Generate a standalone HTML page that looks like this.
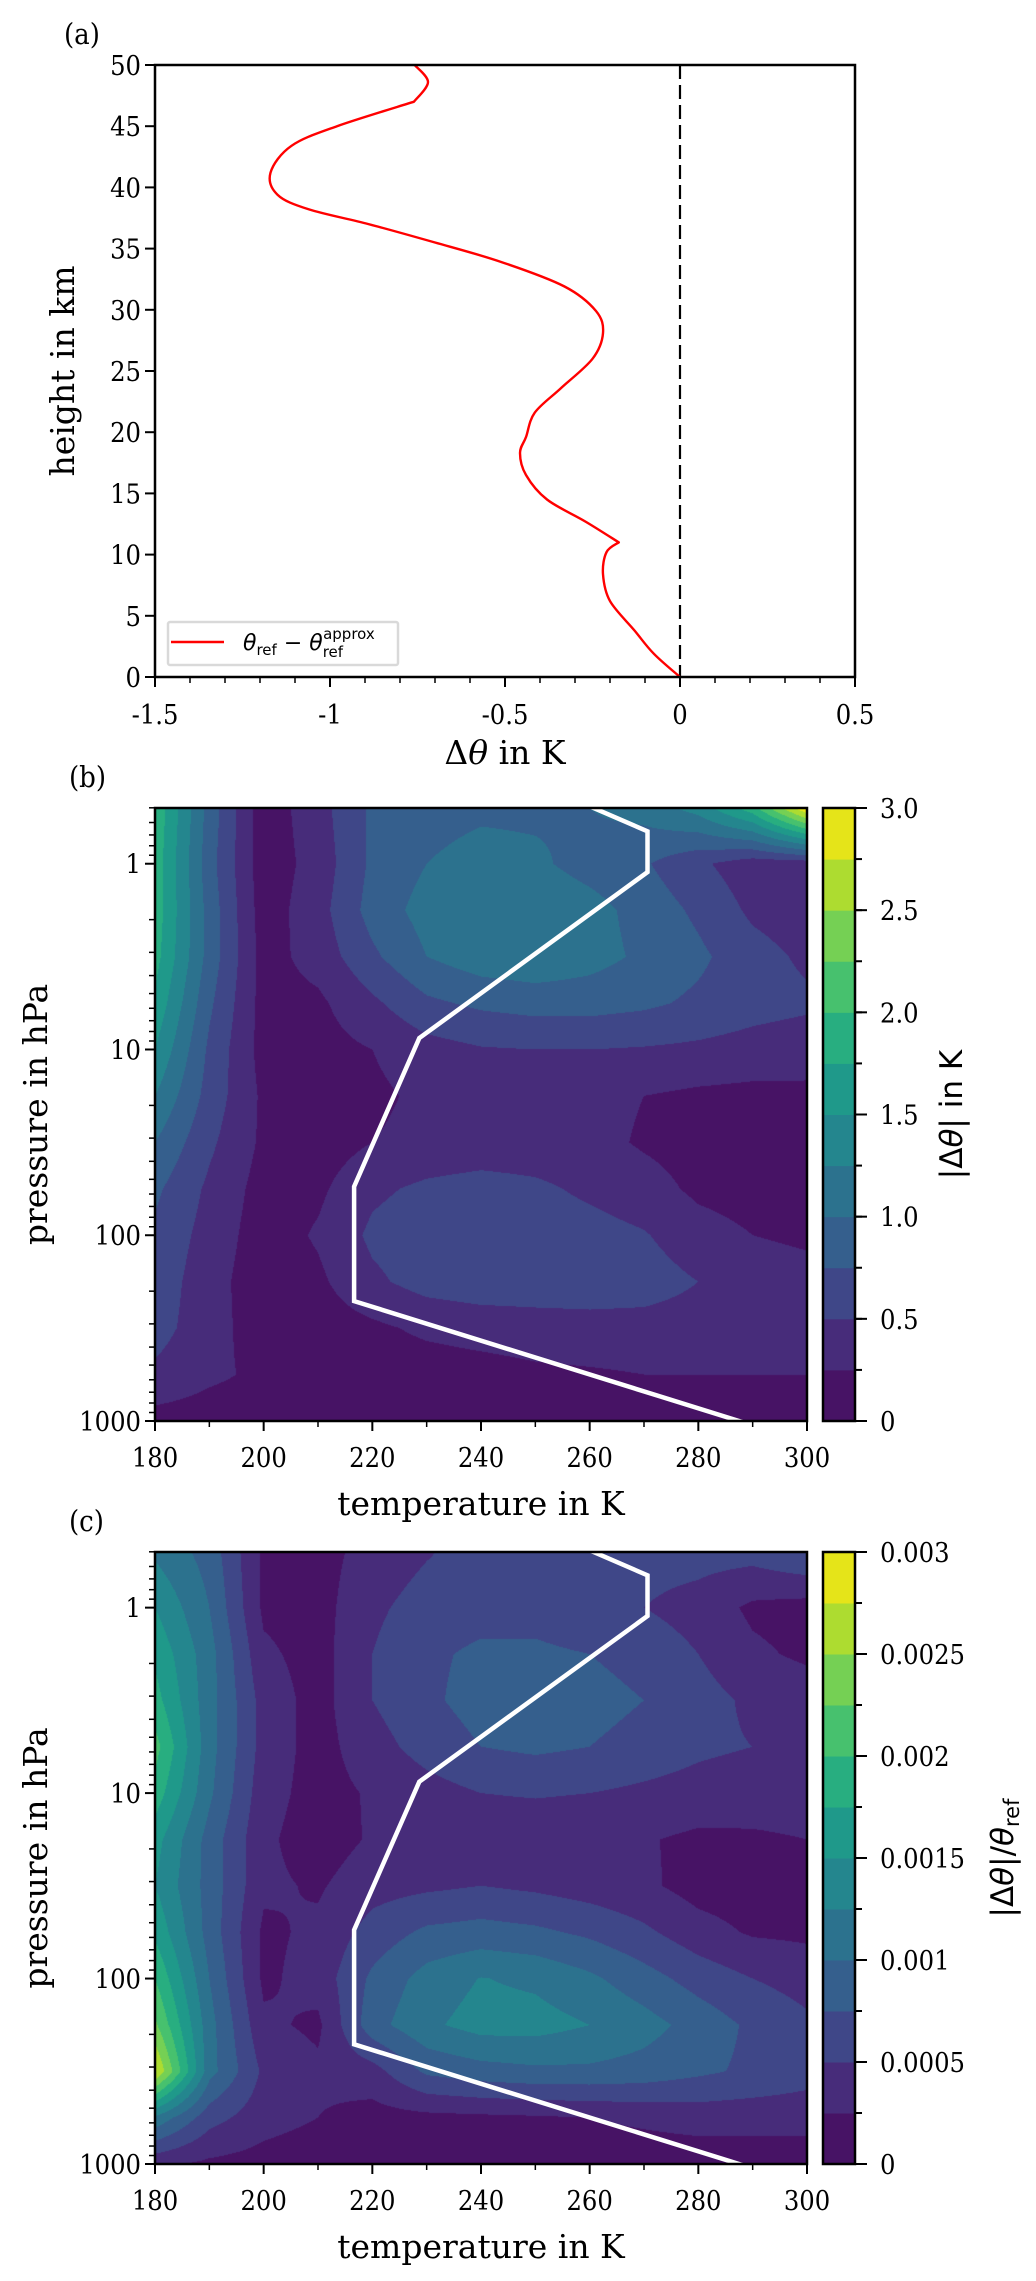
<!DOCTYPE html>
<html><head><meta charset="utf-8">
<style>
html,body{margin:0;padding:0;background:#fff;}
#wrap{position:relative;width:1036px;height:2281px;overflow:hidden;}
canvas{position:absolute;}
svg{position:absolute;left:0;top:0;}
text{font-family:"DejaVu Serif Condensed","DejaVu Serif","Liberation Serif",serif;fill:#000;}
.lab{font-family:"DejaVu Serif","Liberation Serif",serif;font-size:33px;}
.tk{font-size:27px;}
.mt{font-family:"DejaVu Sans","Liberation Sans",sans-serif;}
</style></head>
<body>
<div id="wrap">
<canvas id="cb" width="652" height="613" style="left:155px;top:808px"></canvas>
<canvas id="cc" width="652" height="613" style="left:155px;top:1552px"></canvas>
<svg id="svg" width="1036" height="2281" xmlns="http://www.w3.org/2000/svg"></svg>
</div>
<script>
// ---------- Panel (a) data ----------
const heightKm = [50,48.6,47,45,43.4,41.2,39.4,38.2,37,35.5,33.9,31.9,29.9,28.1,26,23.6,21.6,19.6,18.3,16.5,14.5,12.7,11,10.2,8.4,6.2,3.8,1.9,0];
const deltaTheta = [-0.758,-0.72,-0.76,-0.98,-1.11,-1.17,-1.15,-1.06,-0.89,-0.70,-0.51,-0.33,-0.24,-0.22,-0.25,-0.34,-0.415,-0.44,-0.457,-0.44,-0.38,-0.27,-0.175,-0.21,-0.22,-0.2,-0.13,-0.075,0];
const aXTicks = [-1.5,-1,-0.5,0,0.5];
const aXTickLabels = ["-1.5","-1","-0.5","0","0.5"];
const aYTicks = [0,5,10,15,20,25,30,35,40,45,50];

// ---------- Panels (b),(c) grid ----------
const tempGrid = [180,190,200,210,220,230,240,250,260,270,280,290,300];
const logPGrid = [-0.3,0,0.25,0.5,0.75,1,1.25,1.5,1.75,2,2.25,2.5,2.75,3];
// |dtheta| in K, rows = logPGrid, cols = tempGrid
const absErr = [
 [1.95,0.9,0.1,0.4,0.8,0.9,0.95,0.95,1.0,1.1,1.35,1.9,3.0],
 [1.9,0.85,0.1,0.35,0.8,1.0,1.1,1.05,0.9,0.78,0.55,0.35,0.35],
 [1.9,0.9,0.12,0.4,0.85,1.1,1.2,1.2,1.1,0.9,0.7,0.45,0.35],
 [1.85,0.9,0.15,0.35,0.7,1.0,1.15,1.2,1.1,0.95,0.8,0.6,0.45],
 [1.7,0.8,0.15,0.2,0.45,0.7,0.8,0.85,0.85,0.8,0.7,0.6,0.55],
 [1.5,0.7,0.15,0.15,0.25,0.4,0.48,0.5,0.5,0.48,0.45,0.4,0.35],
 [1.25,0.65,0.2,0.12,0.2,0.3,0.35,0.35,0.33,0.25,0.2,0.18,0.2],
 [1.0,0.55,0.2,0.12,0.25,0.32,0.35,0.35,0.33,0.22,0.15,0.12,0.12],
 [0.8,0.45,0.15,0.2,0.45,0.55,0.6,0.55,0.45,0.35,0.2,0.15,0.15],
 [0.7,0.4,0.12,0.28,0.55,0.65,0.68,0.65,0.6,0.52,0.35,0.25,0.2],
 [0.65,0.35,0.1,0.2,0.45,0.6,0.65,0.65,0.65,0.62,0.5,0.4,0.35],
 [0.6,0.35,0.12,0.12,0.2,0.3,0.35,0.38,0.4,0.4,0.38,0.35,0.32],
 [0.45,0.3,0.2,0.1,0.1,0.12,0.15,0.2,0.22,0.25,0.25,0.25,0.25],
 [0.15,0.12,0.1,0.1,0.1,0.1,0.1,0.1,0.1,0.1,0.1,0.1,0.1]
];
// |dtheta|/theta_ref in units of 1e-4
const relErrE4 = [
 [12,9,2,1.5,3.5,4.8,6,6.5,6,6,6,6,7.5],
 [15,10,2,1.5,4.5,6,6.5,6.5,5.5,5,4,2,1.5],
 [17,11,3,1.5,5,7,8,8,7.5,6.5,5,3,2],
 [18.5,11,4,1.5,5,7,8.5,9,8.5,7.5,6,4.5,4],
 [21,11,4,1.5,4,6,7.5,8,7.5,6.5,5.5,5,4.5],
 [19,10.5,3.5,1.5,2.8,4,5,5.2,5,4.5,4,3.5,3.5],
 [16,9,3,1.2,2.8,3.5,3.5,3.5,3.3,2.7,2,2.2,2.5],
 [15,9,3,2.2,4,4.5,5,4.5,3.8,3,1.5,1.2,1.5],
 [17,9,2,3,6,8,8.5,8,7,5.5,3.5,2.2,2],
 [20,10,2,3.5,8,11,12.6,12,10.5,8.5,6.5,5,4],
 [23,11,3,2,9,12,13.5,13.5,12.5,11,9,7,5.5],
 [28,11,4.5,3,4,8,9,9.5,9.5,9,8,7,6],
 [12,6,3.5,2.5,1.5,1.8,2,2.2,2.5,3,3.5,3.5,3.5],
 [3,2,1.5,1,1,1,1,1,1,1,1,1,1]
];
const absLevels = [0,0.25,0.5,0.75,1,1.25,1.5,1.75,2,2.25,2.5,2.75,3];
const relLevels = [0,2.5,5,7.5,10,12.5,15,17.5,20,22.5,25,27.5,30];
const absCbTickVals = [0,0.5,1,1.5,2,2.5,3];
const absCbTickLabels = ["0","0.5","1.0","1.5","2.0","2.5","3.0"];
const relCbTickVals = [0,5,10,15,20,25,30];
const relCbTickLabels = ["0","0.0005","0.001","0.0015","0.002","0.0025","0.003"];
const tTicks = [180,200,220,240,260,280,300];
const pTicks = [1,10,100,1000];
// standard atmosphere profile
const profileT = [288.15,216.65,216.65,228.65,270.65,270.65,252.65];
const profileP = [1013.25,226.32,54.75,8.68,1.109,0.669,0.396];

const viridis = ["#471365","#472c7a","#3f4788","#355f8d","#2c728e","#24868e","#1f998a","#28ae80","#47c16e","#75d054","#addc30","#e5e419"];

const NS="http://www.w3.org/2000/svg";
const svg=document.getElementById('svg');
function mk(tag,attrs,parent){const e=document.createElementNS(NS,tag);for(const k in attrs)e.setAttribute(k,attrs[k]);(parent||svg).appendChild(e);return e;}
function txt(x,y,s,cls,anchor,parent){const t=mk('text',{x:x,y:y,'class':cls,'text-anchor':anchor||'middle'},parent);t.textContent=s;return t;}

// ===== Panel (a) =====
const A={L:155,R:855,T:65,B:677};
const ax=v=>A.L+(v+1.5)/2*(A.R-A.L);
const ay=v=>A.B-v/50*(A.B-A.T);
let g=mk('g',{});


let zl=mk('line',{x1:ax(0),x2:ax(0),y1:A.T,y2:A.B,stroke:'#000','stroke-width':2.2,'stroke-dasharray':'14,6'},g);


const P=heightKm.map((h,i)=>[ax(deltaTheta[i]),ay(h)]);
const sharp=new Set([heightKm.indexOf(11),heightKm.indexOf(47)]);
let d='M'+P[0][0].toFixed(1)+','+P[0][1].toFixed(1);
for(let i=0;i<P.length-1;i++){
  const p0=(i===0||sharp.has(i))?P[i]:P[i-1],p1=P[i],p2=P[i+1],p3=(i+2>=P.length||sharp.has(i+1))?P[i+1]:P[i+2];
  const c1=[p1[0]+(p2[0]-p0[0])/6,p1[1]+(p2[1]-p0[1])/6],c2=[p2[0]-(p3[0]-p1[0])/6,p2[1]-(p3[1]-p1[1])/6];
  d+=' C'+c1[0].toFixed(1)+','+c1[1].toFixed(1)+' '+c2[0].toFixed(1)+','+c2[1].toFixed(1)+' '+p2[0].toFixed(1)+','+p2[1].toFixed(1);
}
let cur=mk('path',{d:d,fill:'none',stroke:'#ff0000','stroke-width':2.4,'stroke-linejoin':'round'},g);


let fr=mk('rect',{x:A.L,y:A.T,width:A.R-A.L,height:A.B-A.T,fill:'none',stroke:'#000','stroke-width':2.5},g);


aXTicks.forEach((v,i)=>{
  mk('line',{x1:ax(v),x2:ax(v),y1:A.B,y2:A.B+10,stroke:'#000','stroke-width':2},g);
  let t=txt(ax(v),724,aXTickLabels[i],'tk','middle',g);
  
  
});
for(let v=-1.5;v<=0.5001;v+=0.1){mk('line',{x1:ax(v),x2:ax(v),y1:A.B,y2:A.B+6,stroke:'#000','stroke-width':1.5},g);}
aYTicks.forEach(v=>{
  mk('line',{x1:A.L-10,x2:A.L,y1:ay(v),y2:ay(v),stroke:'#000','stroke-width':2},g);
  let t=txt(A.L-14,ay(v)+10,String(v),'tk','end',g);
  
  
});
let t1=txt(505,764,'','lab','middle',g);
t1.innerHTML='Δ<tspan font-style="italic">θ</tspan> in K';


let t2=txt(0,0,'height in km','lab','middle',g);
t2.setAttribute('transform','translate(74,371) rotate(-90)');


let pa=txt(64,44,'(a)','lab','start',g);
pa.style.fontFamily='"DejaVu Serif Condensed","DejaVu Serif",serif';pa.style.fontSize='29px';


let lg=mk('g',{},g);


mk('rect',{x:168,y:622,width:230,height:43,fill:'#fff',stroke:'#d9d9d9','stroke-width':2.5,rx:2},lg);
let ll=mk('line',{x1:171,x2:224,y1:642,y2:642,stroke:'#ff0000','stroke-width':2.5},lg);


let lt=mk('text',{x:243,y:650,'class':'mt','font-size':'22'},lg);
lt.innerHTML='<tspan font-style="italic">θ</tspan><tspan font-size="15" dy="5">ref</tspan><tspan dy="-5"> − </tspan><tspan font-style="italic">θ</tspan><tspan font-size="15" dy="7">ref</tspan><tspan font-size="15" dx="-20" dy="-18">approx</tspan>';



// ===== Panels (b),(c) =====
function interp(grid,T,lp){
  let fx=(T-tempGrid[0])/(tempGrid[1]-tempGrid[0]);
  let i=Math.min(tempGrid.length-2,Math.max(0,Math.floor(fx)));let u=Math.min(1,Math.max(0,fx-i));
  let j=0;while(j<logPGrid.length-2&&lp>logPGrid[j+1])j++;
  let v=(lp-logPGrid[j])/(logPGrid[j+1]-logPGrid[j]);v=Math.min(1,Math.max(0,v));
  return grid[j][i]*(1-u)*(1-v)+grid[j][i+1]*u*(1-v)+grid[j+1][i]*(1-u)*v+grid[j+1][i+1]*u*v;
}
function panel(P){
  const W=P.R-P.L,H=P.B-P.T;
  const tx=T=>P.L+(T-180)/120*W;
  const py=p=>P.T+(Math.log10(p)+0.3)/3.3*H;
  const ctx=document.getElementById(P.canvas).getContext('2d');
  const img=ctx.createImageData(W,H);
  const rgb=viridis.map(h=>[parseInt(h.substr(1,2),16),parseInt(h.substr(3,2),16),parseInt(h.substr(5,2),16)]);
  for(let y=0;y<H;y++){const lp=-0.3+(y+0.5)/H*3.3;
    for(let x=0;x<W;x++){const T=180+(x+0.5)/W*120;
      const val=interp(P.grid,T,lp);let k=0;
      while(k<P.levels.length-2&&val>=P.levels[k+1])k++;
      const c=rgb[k];const o=(y*W+x)*4;img.data[o]=c[0];img.data[o+1]=c[1];img.data[o+2]=c[2];img.data[o+3]=255;}}
  ctx.putImageData(img,0,0);
  let g=mk('g',{});
  
  
  let clip=mk('clipPath',{id:P.canvas+'clip'},g);mk('rect',{x:P.L,y:P.T,width:W,height:H},clip);
  let pp=profileT.map((T,i)=>tx(T).toFixed(1)+','+py(profileP[i]).toFixed(1)).join(' ');
  let pl=mk('polyline',{points:pp,fill:'none',stroke:'#fff','stroke-width':4.5,'clip-path':'url(#'+P.canvas+'clip)'},g);
  
  
  let fr=mk('rect',{x:P.L,y:P.T,width:W,height:H,fill:'none',stroke:'#000','stroke-width':2.5},g);
  
  
  tTicks.forEach(T=>{
    mk('line',{x1:tx(T),x2:tx(T),y1:P.B,y2:P.B+10,stroke:'#000','stroke-width':2},g);
    let t=txt(tx(T),P.B+46,String(T),'tk','middle',g);
    
    
  });
  for(let T=190;T<300;T+=20)mk('line',{x1:tx(T),x2:tx(T),y1:P.B,y2:P.B+6,stroke:'#000','stroke-width':1.5},g);
  pTicks.forEach(p=>{
    mk('line',{x1:P.L-10,x2:P.L,y1:py(p),y2:py(p),stroke:'#000','stroke-width':2},g);
    let t=txt(P.L-14,py(p)+10,String(p),'tk','end',g);
    
    
  });
  [0.1,1,10,100].forEach(d=>{for(let m=2;m<10;m++){const p=d*m;if(p<0.5||p>1000)continue;
    mk('line',{x1:P.L-6,x2:P.L,y1:py(p),y2:py(p),stroke:'#000','stroke-width':1.5},g);}});
  let xl=txt(P.L+W/2,P.B+94,'temperature in K','lab','middle',g);
  
  
  let yl=txt(0,0,'pressure in hPa','lab','middle',g);
  yl.setAttribute('transform','translate(47,'+(P.T+H/2)+') rotate(-90)');
  
  
  let pl2=txt(P.labX,P.T-21,P.label,'lab','start',g);
  pl2.style.fontFamily='"DejaVu Serif Condensed","DejaVu Serif",serif';pl2.style.fontSize='29px';
  
  
  const CL=823,CR=855;const lvMax=P.levels[P.levels.length-1];
  const cy=v=>P.B-v/lvMax*H;
  let cb=mk('g',{},g);
  
  
  for(let k=0;k<P.levels.length-1;k++){
    let r=mk('rect',{x:CL,y:cy(P.levels[k+1]),width:CR-CL,height:cy(P.levels[k])-cy(P.levels[k+1])+0.5,fill:viridis[k]},cb);
    
    
    mk('line',{x1:CR,x2:CR+7,y1:cy(P.levels[k]),y2:cy(P.levels[k]),stroke:'#000','stroke-width':2},cb);
  }
  mk('rect',{x:CL,y:P.T,width:CR-CL,height:H,fill:'none',stroke:'#000','stroke-width':2.5},cb);
  P.cbVals.forEach((v,i)=>{
    mk('line',{x1:CR,x2:CR+12,y1:cy(v),y2:cy(v),stroke:'#000','stroke-width':2},cb);
    let t=txt(880,cy(v)+10,P.cbLabels[i],'tk','start',cb);
    
    
  });
  let cl=mk('text',{'class':'mt','font-size':'31','text-anchor':'middle',transform:'translate('+P.cbLabX+','+(P.T+H/2)+') rotate(-90)'},cb);
  cl.innerHTML=P.cbTitle;
  
  
}
panel({name:'panel-b',canvas:'cb',L:155,R:807,T:808,B:1421,grid:absErr,levels:absLevels,cbVals:absCbTickVals,cbLabels:absCbTickLabels,label:'(b)',labX:69,cbLabX:962,
  cbTitle:'|Δ<tspan font-style="italic">θ</tspan>| in K'});
panel({name:'panel-c',canvas:'cc',L:155,R:807,T:1552,B:2164,grid:relErrE4,levels:relLevels,cbVals:relCbTickVals,cbLabels:relCbTickLabels,label:'(c)',labX:69,cbLabX:1013,
  cbTitle:'|Δ<tspan font-style="italic">θ</tspan>|/<tspan font-style="italic">θ</tspan><tspan font-size="21" dy="6">ref</tspan>'});
</script>
</body></html>
